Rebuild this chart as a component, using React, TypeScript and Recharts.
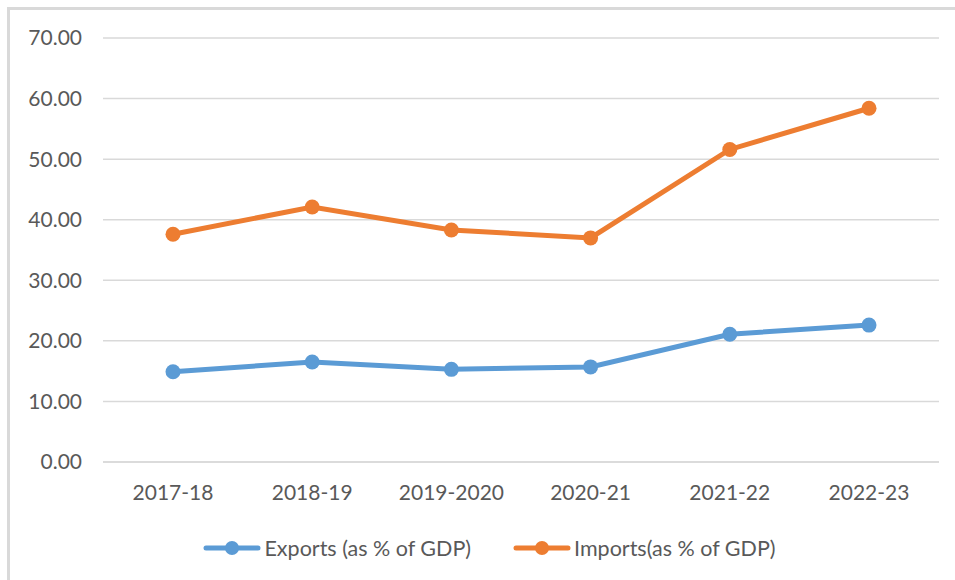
import React from 'react';
import {
  LineChart,
  Line,
  XAxis,
  YAxis,
  CartesianGrid,
  Legend,
} from 'recharts';

// Data
const YEARS = ['2017-18', '2018-19', '2019-2020', '2020-21', '2021-22', '2022-23'];
const EXPORTS = [14.9, 16.5, 15.3, 15.7, 21.1, 22.6];
const IMPORTS = [37.6, 42.1, 38.3, 37.0, 51.6, 58.4];
const Y_TICKS = [0, 10, 20, 30, 40, 50, 60, 70];

const EXPORTS_LABEL = 'Exports (as % of GDP)';
const IMPORTS_LABEL = 'Imports(as % of GDP)';

const BLUE = '#5B9BD5';
const ORANGE = '#ED7D31';
const GRID = '#D9D9D9';
const TEXT = '#595959';
const FONT = 'Lato, "Open Sans", sans-serif';

const chartData = YEARS.map((year, i) => ({
  name: year,
  exports: EXPORTS[i],
  imports: IMPORTS[i],
}));

/**
 * Legend item: line with a dot in the middle, like Excel
 */
function LegendIcon({ color }: { color: string }) {
  return (
    <svg width={58} height={16} style={{ display: 'block' }}>
      <line x1={3} y1={8} x2={55} y2={8} stroke={color} strokeWidth={5} strokeLinecap="round" />
      <circle cx={29} cy={8} r={7} fill={color} />
    </svg>
  );
}

function CustomLegend() {
  const items = [
    { label: EXPORTS_LABEL, color: BLUE },
    { label: IMPORTS_LABEL, color: ORANGE },
  ];
  return (
    <div
      style={{
        display: 'flex',
        justifyContent: 'center',
        alignItems: 'center',
        gap: 42,
        height: 30,
        paddingLeft: 30,
        fontFamily: FONT,
        fontSize: 21.5,
        color: TEXT,
      }}
    >
      {items.map((item) => (
        <div key={item.label} style={{ display: 'flex', alignItems: 'center', gap: 3 }}>
          <LegendIcon color={item.color} />
          <span>{item.label}</span>
        </div>
      ))}
    </div>
  );
}

export default function App() {
  const tickStyle = { fontSize: 21, fill: TEXT, fontFamily: FONT };

  return (
    <div
      style={{
        position: 'absolute',
        left: 7,
        top: 7,
        width: 948,
        height: 573,
        boxSizing: 'border-box',
        borderTop: `3px solid ${GRID}`,
        borderLeft: `3px solid ${GRID}`,
        background: '#fff',
        overflow: 'hidden',
      }}
    >
      <LineChart
        width={945}
        height={570}
        data={chartData}
        margin={{ top: 28, right: 16, left: 0, bottom: 17 }}
      >
        <CartesianGrid vertical={false} stroke={GRID} strokeWidth={1.5} />
        <XAxis
          dataKey="name"
          tick={tickStyle}
          tickLine={false}
          axisLine={{ stroke: GRID, strokeWidth: 1.5 }}
          tickSize={6}
          tickMargin={17}
          height={71}
          interval={0}
          padding={{ left: 70, right: 70 }}
        />
        <YAxis
          domain={[0, 70]}
          ticks={Y_TICKS}
          tickFormatter={(v: number) => v.toFixed(2)}
          tick={tickStyle}
          tickLine={false}
          axisLine={false}
          tickSize={6}
          tickMargin={15}
          width={93}
        />
        <Legend verticalAlign="bottom" height={30} content={() => <CustomLegend />} />
        <Line
          dataKey="exports"
          name={EXPORTS_LABEL}
          stroke={BLUE}
          strokeWidth={5}
          dot={{ r: 7.5, fill: BLUE, stroke: BLUE, strokeWidth: 0 }}
          activeDot={false}
          isAnimationActive={false}
        />
        <Line
          dataKey="imports"
          name={IMPORTS_LABEL}
          stroke={ORANGE}
          strokeWidth={5}
          dot={{ r: 7.5, fill: ORANGE, stroke: ORANGE, strokeWidth: 0 }}
          activeDot={false}
          isAnimationActive={false}
        />
      </LineChart>
    </div>
  );
}
